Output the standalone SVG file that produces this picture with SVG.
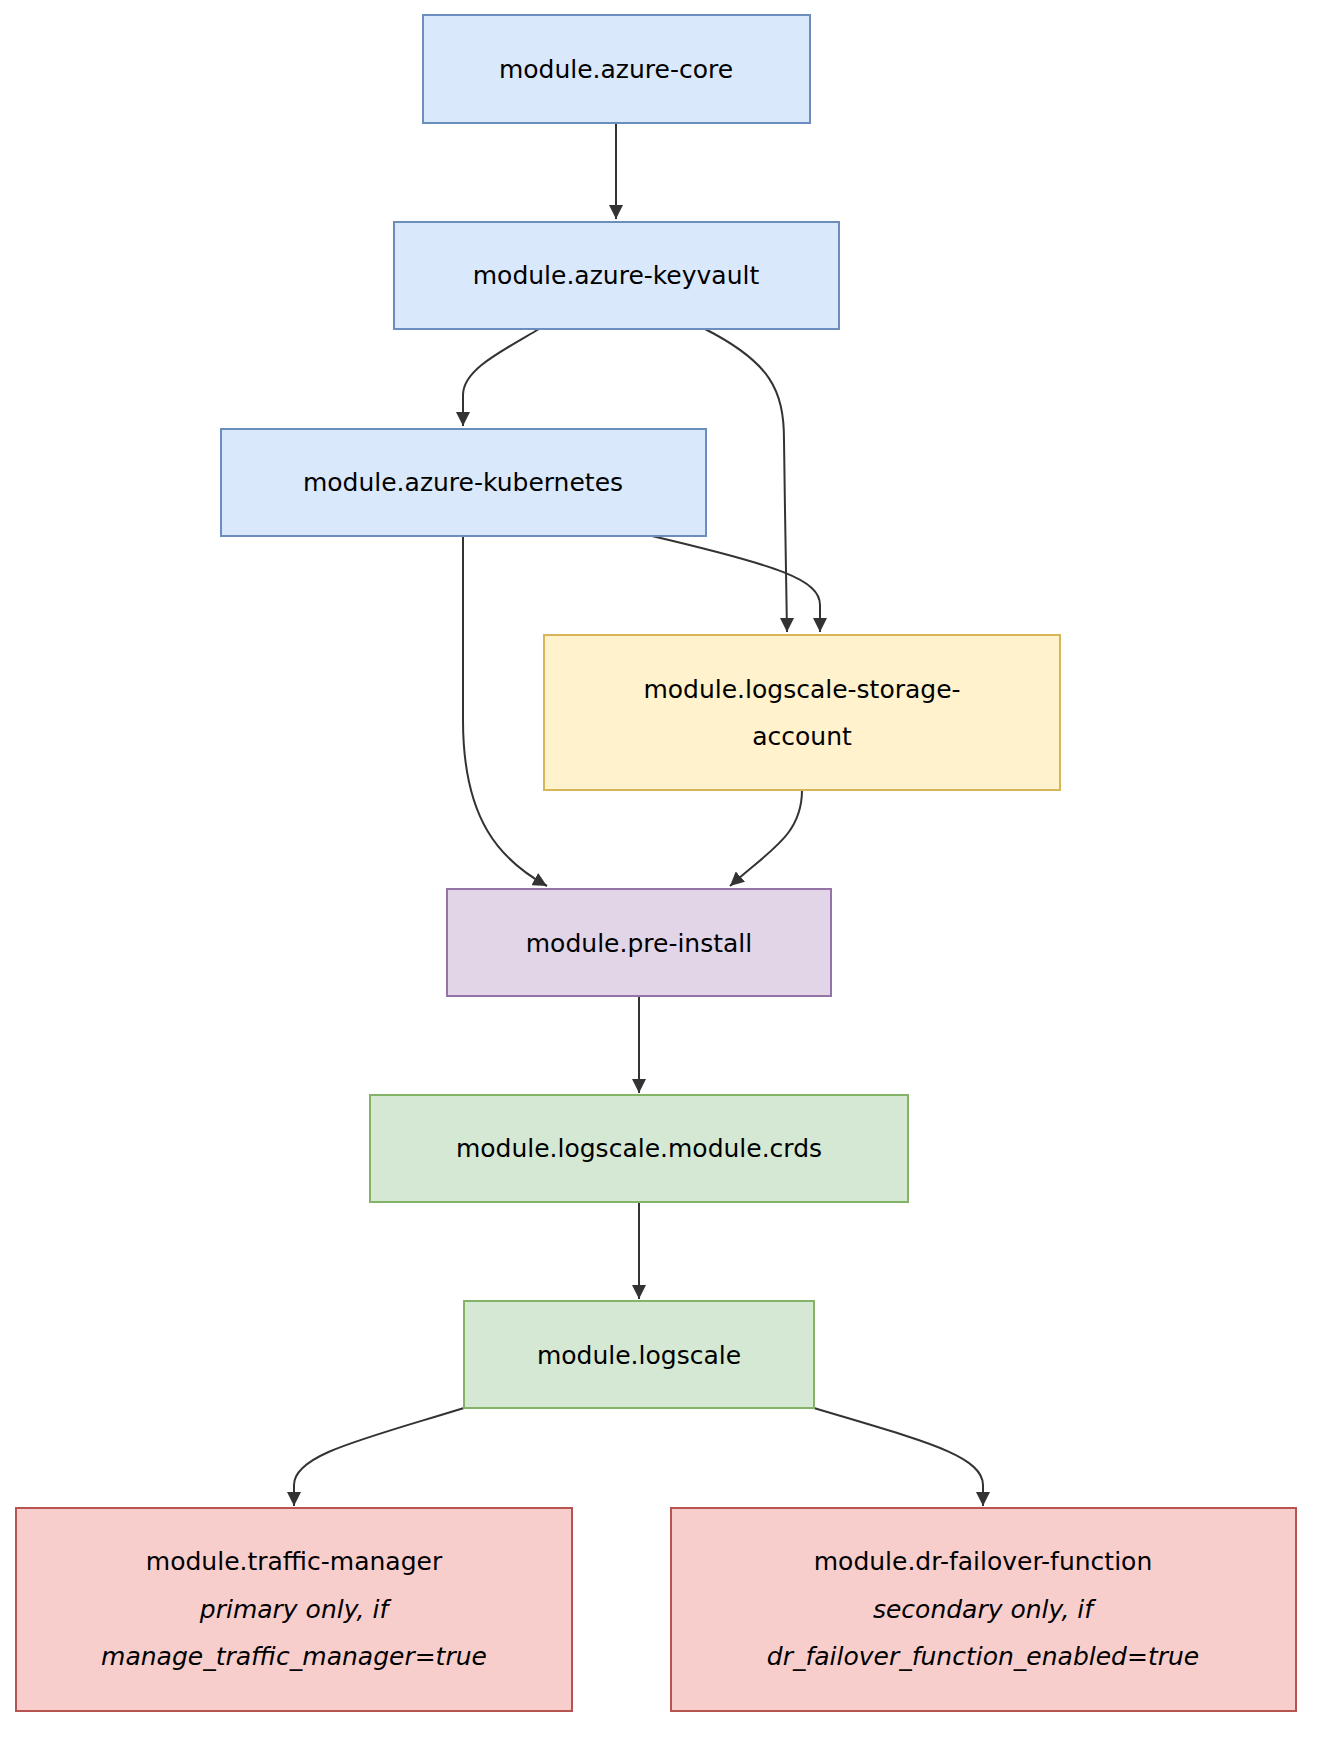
<svg xmlns="http://www.w3.org/2000/svg" width="1322" height="1740" viewBox="0 0 1322 1740">
<style>
.n rect{stroke-width:2}
.b rect{fill:#dae8fc;stroke:#6c8ebf}
.y rect{fill:#fff2cc;stroke:#d6b656}
.p rect{fill:#e1d5e7;stroke:#9673a6}
.g rect{fill:#d5e8d4;stroke:#82b366}
.r rect{fill:#f8cecc;stroke:#b85450}
text{font-family:"DejaVu Sans",Verdana,sans-serif;font-size:25px;fill:#000;text-anchor:middle;dominant-baseline:central}
.i{font-style:italic}
#edges path{fill:none;stroke:#333;stroke-width:2;marker-end:url(#ah)}
</style>
<defs><marker id="ah" viewBox="0 0 10 10" refX="9" refY="5" markerWidth="7" markerHeight="7" orient="auto" markerUnits="userSpaceOnUse"><path d="M0,0L10,5L0,10z" fill="#333" transform="scale(1)"/></marker></defs>
<defs><marker id="ah2" viewBox="0 0 10 10" refX="10" refY="5" markerWidth="14" markerHeight="14" orient="auto" markerUnits="userSpaceOnUse"><path d="M0,0L10,5L0,10z" fill="#333"/></marker></defs>
<style>#edges path{marker-end:url(#ah2)}</style>
<g id="edges">
<path d="M616,123L616,219"/>
<path d="M539,329C500,352 463,370 463,395L463,426"/>
<path d="M705,329C770,362 784,390 784,440L785,510C786,580 787,610 787,632"/>
<path d="M652,536C780,566 820,580 820,605L820,632"/>
<path d="M463,536L463,720C463,820 500,860 547,886"/>
<path d="M802,790C802,835 770,850 730,886"/>
<path d="M639,996L639,1093"/>
<path d="M639,1202L639,1299"/>
<path d="M464,1408C360,1440 294,1455 294,1485L294,1506"/>
<path d="M814,1408C920,1440 983,1455 983,1485L983,1506"/>
</g>
<g id="azure-core" class="n b"><rect x="423" y="15" width="387" height="108"/><text x="616" y="69">module.azure-core</text></g>
<g id="azure-keyvault" class="n b"><rect x="394" y="222" width="445" height="107"/><text x="616" y="275">module.azure-keyvault</text></g>
<g id="azure-kubernetes" class="n b"><rect x="221" y="429" width="485" height="107"/><text x="463" y="482">module.azure-kubernetes</text></g>
<g id="storage" class="n y"><rect x="544" y="635" width="516" height="155"/><text x="802" y="689">module.logscale-storage-</text><text x="802" y="736">account</text></g>
<g id="pre-install" class="n p"><rect x="447" y="889" width="384" height="107"/><text x="639" y="943">module.pre-install</text></g>
<g id="crds" class="n g"><rect x="370" y="1095" width="538" height="107"/><text x="639" y="1148">module.logscale.module.crds</text></g>
<g id="logscale" class="n g"><rect x="464" y="1301" width="350" height="107"/><text x="639" y="1355">module.logscale</text></g>
<g id="traffic-manager" class="n r"><rect x="16" y="1508" width="556" height="203"/><text x="294" y="1561">module.traffic-manager</text><text class="i" x="294" y="1609">primary only, if</text><text class="i" x="294" y="1656">manage_traffic_manager=true</text></g>
<g id="dr-failover" class="n r"><rect x="671" y="1508" width="625" height="203"/><text x="983" y="1561">module.dr-failover-function</text><text class="i" x="983" y="1609">secondary only, if</text><text class="i" x="983" y="1656">dr_failover_function_enabled=true</text></g>
</svg>
